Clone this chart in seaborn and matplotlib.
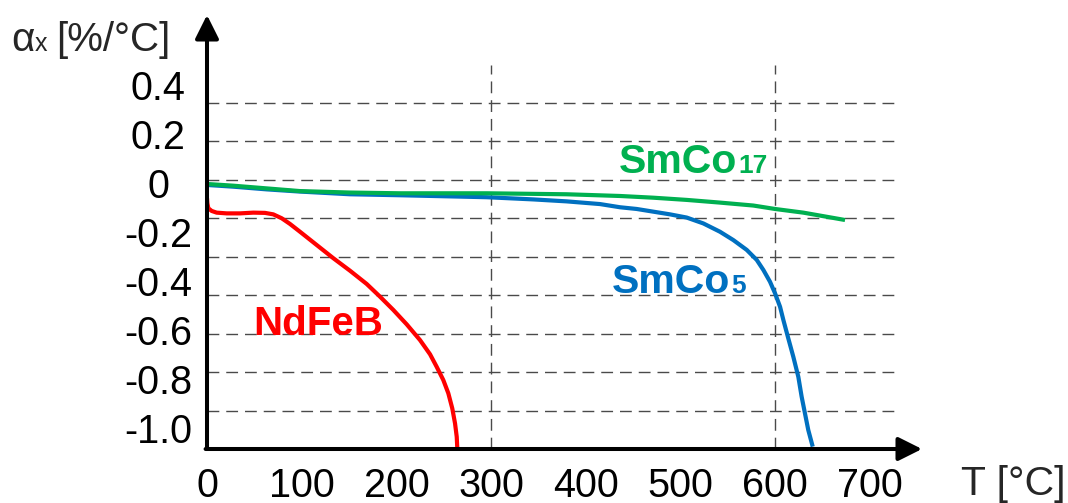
import matplotlib
matplotlib.use("Agg")
import matplotlib.pyplot as plt
import pandas as pd
import seaborn as sns

# Temperature coefficient of remanence for three magnet families
temp_ndfeb = [0, 0.4, 1.4, 4.9, 10.2, 20.8, 34.8, 48.9, 61.2, 70.0, 78.9, 87.6, 98.2,
              115.8, 133.4, 151.0, 168.6, 182.7, 196.7, 210.9, 224.9, 235.5, 242.5,
              249.5, 254.8, 259.0, 261.9, 263.7, 264.3]
alpha_ndfeb = [-0.062, -0.083, -0.103, -0.114, -0.121, -0.124, -0.124, -0.121, -0.122,
               -0.128, -0.144, -0.167, -0.199, -0.253, -0.307, -0.358, -0.412, -0.464,
               -0.518, -0.577, -0.641, -0.699, -0.750, -0.804, -0.858, -0.920, -0.981,
               -1.036, -1.083]

temp_smco5 = [0, 27.8, 63, 98.2, 151, 203.8, 295.3, 344.6, 379.8, 415, 436.1, 453.7,
              471.3, 488.9, 506.5, 524.1, 541.7, 555.8, 569.9, 580.5, 587.5, 594.5,
              599.8, 605.1, 608.6, 613.8, 619.1, 624.4, 627.9, 631.4, 634.9, 639.6]
alpha_smco5 = [-0.008, -0.015, -0.026, -0.035, -0.046, -0.050, -0.058, -0.067, -0.075,
               -0.086, -0.099, -0.106, -0.117, -0.128, -0.141, -0.165, -0.199, -0.233,
               -0.273, -0.314, -0.355, -0.403, -0.450, -0.505, -0.559, -0.634, -0.709,
               -0.791, -0.872, -0.940, -1.008, -1.076]

temp_smco17 = [0, 27.8, 63, 98.2, 151, 203.8, 295.3, 379.8, 436.1, 471.3, 506.5, 541.7,
               576.9, 599.8, 629.7, 673.7]
alpha_smco17 = [-0.004, -0.011, -0.022, -0.033, -0.039, -0.042, -0.042, -0.046, -0.053,
                -0.060, -0.069, -0.080, -0.092, -0.106, -0.121, -0.151]

x_ticks = [0, 100, 200, 300, 400, 500, 600, 700]
y_ticks = [0.4, 0.2, 0.0, -0.2, -0.4, -0.6, -0.8, -1.0]
y_tick_labels = ["0.4", "0.2", "0", "-0.2", "-0.4", "-0.6", "-0.8", "-1.0"]

RED, GREEN, BLUE = "#FF0000", "#00B050", "#0070C0"

sns.set_theme(style="white")
plt.rcParams["font.family"] = ["Liberation Sans", "DejaVu Sans"]

W, H = 1068, 503
fig = plt.figure(figsize=(W / 100, H / 100), dpi=100)


def fpos(x, y):
    return x / W, 1 - y / H


ax = fig.add_axes([207 / W, (H - 449) / H, (922 - 207) / W, (449 - 15) / H])
ax.set_xlim(0, 755)
ax.set_ylim(-1.0857, 0.6857)

# dashed background lattice on its own scale (10 cells tall)
lat = ax.twinx()
lat.set_ylim(0, (449 - 15) / 38.44)
lat.set_yticks([])
for s in lat.spines.values():
    s.set_visible(False)
grid_kw = dict(color="#4a4a4a", lw=1.0, dashes=(8.5, 5.0))
for k in range(1, 10):
    lat.plot([0, 732], [k, k], **grid_kw)
for t in (300, 600):
    lat.plot([t, t], [0, 10], **grid_kw)
lat.set_zorder(0)
ax.set_zorder(1)
ax.patch.set_visible(False)

curves = pd.concat([
    pd.DataFrame({"T": temp_smco5, "alpha": alpha_smco5, "mat": "SmCo5"}),
    pd.DataFrame({"T": temp_smco17, "alpha": alpha_smco17, "mat": "SmCo17"}),
    pd.DataFrame({"T": temp_ndfeb, "alpha": alpha_ndfeb, "mat": "NdFeB"}),
])
sns.lineplot(data=curves, x="T", y="alpha", hue="mat", units="mat", estimator=None,
             sort=False, palette={"SmCo5": BLUE, "SmCo17": GREEN, "NdFeB": RED},
             legend=False, ax=ax)
for ln in ax.get_lines():
    ln.set_linewidth(3.0)
    ln.set_solid_capstyle("butt")
    ln.set_solid_joinstyle("round")

for s in ax.spines.values():
    s.set_visible(False)

ax.set_xticks(x_ticks)
ax.set_xticklabels([str(v) for v in x_ticks])
ax.set_yticks(y_ticks)
ax.set_yticklabels(y_tick_labels)
ax.tick_params(axis="both", length=0, labelsize=28.5, colors="black")
ax.tick_params(axis="y", pad=35)
ax.tick_params(axis="x", pad=13)
for lbl in ax.get_yticklabels():
    lbl.set_ha("center")
ax.set_xlabel("")
ax.set_ylabel("")

# axes drawn as arrows
arrow_kw = dict(arrowstyle="-|>,head_length=0.72,head_width=0.36", lw=2.9,
                color="black", shrinkA=0, shrinkB=0, mutation_scale=20)
ax.annotate("", xy=(0, 1), xytext=(0, 0), xycoords="axes fraction",
            textcoords="axes fraction", arrowprops=arrow_kw, annotation_clip=False)
ax.annotate("", xy=(1, 0), xytext=(-0.002, 0), xycoords="axes fraction",
            textcoords="axes fraction", arrowprops=arrow_kw, annotation_clip=False)

fig.canvas.draw()
renderer = fig.canvas.get_renderer()


def label_with_suffix(x, y, main, suffix, size, small, gap=0, **kw):
    """Draw `main` then `suffix` in a smaller size on the same baseline."""
    t = fig.text(*fpos(x, y), main, fontsize=size, va="baseline", ha="left", **kw)
    x1 = t.get_window_extent(renderer).x1
    fig.text((x1 + gap) / W, 1 - y / H, suffix, fontsize=small, va="baseline",
             ha="left", **kw)
    return t


# axis titles
t_alpha = label_with_suffix(11, 51, "α", "x", 29, 18)
fig.text(*fpos(56, 51), "[%/°C]", fontsize=29, va="baseline", ha="left")
fig.text(*fpos(961, 495), "T [°C]", fontsize=29.5, va="baseline", ha="left")

# series names
fig.text(*fpos(253, 335), "NdFeB", color=RED, fontsize=29, fontweight="bold",
         va="baseline", ha="left")
label_with_suffix(619, 173, "SmCo", "17", 29.5, 19, gap=1, color=GREEN, fontweight="bold")
label_with_suffix(612, 293, "SmCo", "5", 29.5, 19, gap=1, color=BLUE, fontweight="bold")

fig.savefig("out.png", dpi=100)
